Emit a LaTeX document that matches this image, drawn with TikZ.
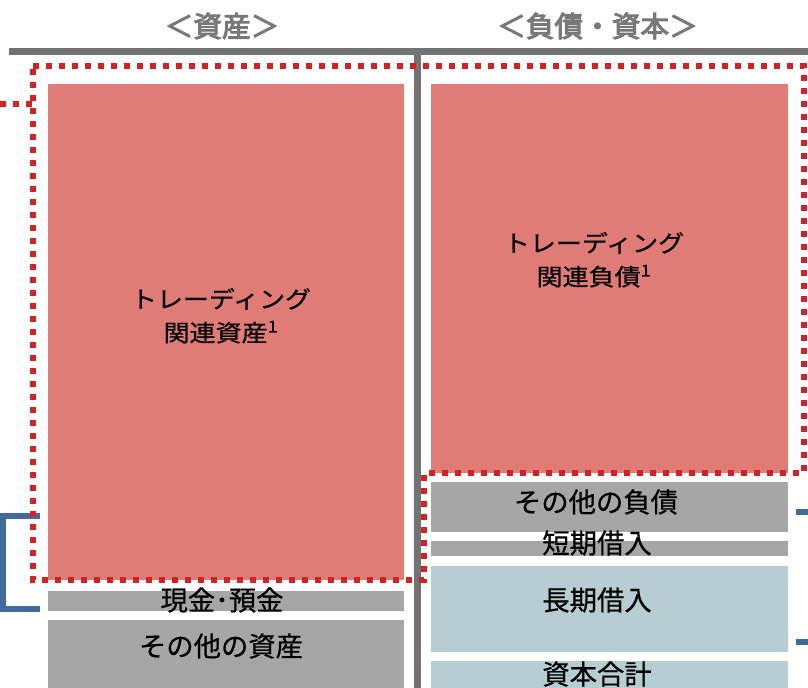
\documentclass[tikz,border=0pt]{standalone}
\usepackage{fontspec}
\setmainfont{Noto Sans CJK JP}[RawFeature={embolden=0.6}]
\newfontfamily\headfont{Noto Sans CJK JP}[RawFeature={embolden=3.5}]
\usetikzlibrary{fit}
\definecolor{tradepink}{HTML}{E07B76}
\definecolor{boxgrey}{HTML}{A6A6A6}
\definecolor{boxblue}{HTML}{B6CDD1}
\definecolor{dotred}{HTML}{D02323}
\definecolor{gridgrey}{HTML}{737373}
\definecolor{headgrey}{HTML}{787878}
\definecolor{bracketblue}{HTML}{41699A}
\tikzset{
  box/.style={inner sep=0pt, outer sep=0pt, draw=none},
  tradebox/.style={box, fill=tradepink},
  greybox/.style={box, fill=boxgrey},
  bluebox/.style={box, fill=boxblue},
  headlbl/.style={inner sep=0pt, text=headgrey, font=\headfont\fontsize{21.5}{24}\selectfont},
  toplbl/.style={inner sep=0pt, text=black, align=center},
  lbl/.style={inner sep=0pt, text=black, font=\fontsize{20.5}{24}\selectfont},
  gridline/.style={draw=gridgrey, line width=5.25pt},
  reddots/.style={draw=dotred, line width=4.5pt, dash pattern=on 4.5pt off 5.25pt},
  bracketline/.style={draw=bracketblue, line width=4.5pt},
}
\newcommand{\toptext}[1]{\scalebox{1}[0.9]{\fontsize{19.5}{28}\selectfont\begin{tabular}{@{}c@{}}#1\end{tabular}}}
\begin{document}
\begin{tikzpicture}[x=0.75pt,y=-0.75pt]
\clip (0,0) rectangle (808,688);
\fill[white] (0,0) rectangle (808,688);
% headers
\node[headlbl] (hasset) at (222,26) {＜資産＞};
\node[headlbl] (hliab) at (597.5,26) {＜負債・資本＞};
% left side boxes
\node[tradebox, fit={(48,84)(404,580)}] (lt) {};
\node[greybox, fit={(48,591)(404,611)}] (cash) {};
\node[greybox, fit={(48,620)(404,700)}] (lo) {};
% right side boxes
\node[tradebox, fit={(431,84)(788,473)}] (rt) {};
\node[greybox, fit={(431,482)(788,532)}] (ro) {};
\node[greybox, fit={(431,541)(788,556)}] (short) {};
\node[bluebox, fit={(431,566)(788,652)}] (long) {};
\node[bluebox, fit={(431,661)(788,700)}] (eq) {};
% labels
\node[toplbl] (lttext) at (221,318) {\toptext{トレーディング\\関連資産\textsuperscript{1}}};
\node[toplbl] (rttext) at (594,262) {\toptext{トレーディング\\関連負債\textsuperscript{1}}};
\node[lbl] (cashtext) at (222,600) {現金･預金};
\node[lbl] (lotext) at (221,646) {その他の資産};
\node[lbl] (rotext) at (596,502) {その他の負債};
\node[lbl] (shorttext) at (597,543) {短期借入};
\node[lbl] (longtext) at (597,600) {長期借入};
\node[lbl] (eqtext) at (597,674) {資本合計};
% grid lines
\draw[gridline] (9,51.5) -- (812,51.5);
\draw[gridline] (417.5,48) -- (417.5,692);
% brackets
\draw[bracketline] (40,516) -- (2.5,516) -- (2.5,609) -- (40,609);
\draw[bracketline] (796,512) -- (812,512);
\draw[bracketline] (796,642) -- (812,642);
% dotted outline
\draw[reddots] (33,66) -- (804,66) -- (804,473) -- (424,473) -- (424,580) -- (33,580) -- cycle;
\draw[reddots] (0,104) -- (33,104);
\end{tikzpicture}
\end{document}
